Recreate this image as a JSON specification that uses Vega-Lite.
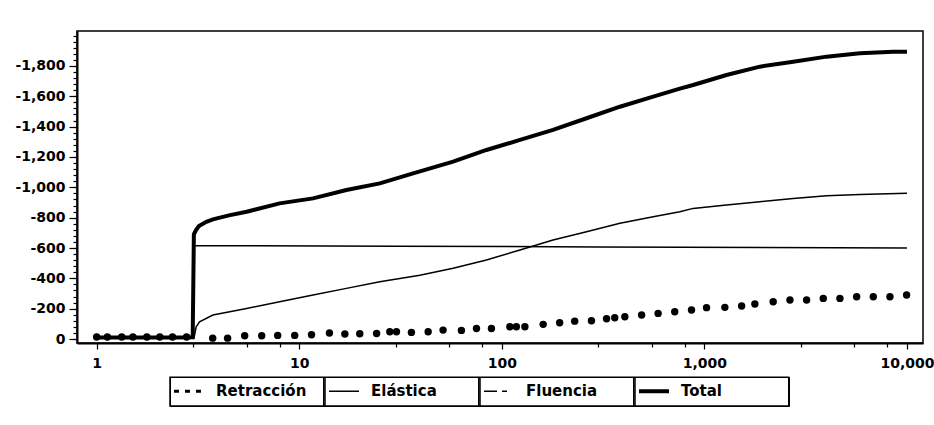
{
  "$schema": "https://vega.github.io/schema/vega-lite/v6.json",
  "width": 846,
  "height": 312,
  "autosize": {"type": "none"},
  "padding": {"left": 77, "top": 31, "right": 11, "bottom": 82},
  "background": "white",
  "config": {
    "view": {"stroke": "black", "strokeWidth": 1.5},
    "axis": {"labelFont": "DejaVu Sans", "labelFontSize": 14, "labelFontWeight": "bold", "labelColor": "black", "domainColor": "black", "tickColor": "black", "grid": false, "domainWidth": 2, "tickWidth": 1.2, "title": null}
  },
  "datasets": {
    "lineas": [
      {"serie": "Total", "t": 1, "v": -10},
      {"serie": "Total", "t": 1.5, "v": -10},
      {"serie": "Total", "t": 2, "v": -10},
      {"serie": "Total", "t": 2.5, "v": -11},
      {"serie": "Total", "t": 2.98, "v": -12},
      {"serie": "Total", "t": 3.02, "v": -690},
      {"serie": "Total", "t": 3.1, "v": -720},
      {"serie": "Total", "t": 3.2, "v": -745},
      {"serie": "Total", "t": 3.48, "v": -773},
      {"serie": "Total", "t": 3.75, "v": -789},
      {"serie": "Total", "t": 4.5, "v": -815},
      {"serie": "Total", "t": 5.5, "v": -839},
      {"serie": "Total", "t": 8, "v": -894},
      {"serie": "Total", "t": 11.7, "v": -927},
      {"serie": "Total", "t": 17.1, "v": -982},
      {"serie": "Total", "t": 25, "v": -1026},
      {"serie": "Total", "t": 36.5, "v": -1092},
      {"serie": "Total", "t": 57.5, "v": -1169},
      {"serie": "Total", "t": 84, "v": -1246},
      {"serie": "Total", "t": 123, "v": -1312},
      {"serie": "Total", "t": 179, "v": -1378},
      {"serie": "Total", "t": 262, "v": -1455},
      {"serie": "Total", "t": 383, "v": -1531},
      {"serie": "Total", "t": 559, "v": -1597},
      {"serie": "Total", "t": 757, "v": -1650},
      {"serie": "Total", "t": 880, "v": -1674},
      {"serie": "Total", "t": 1286, "v": -1740},
      {"serie": "Total", "t": 1880, "v": -1795},
      {"serie": "Total", "t": 2745, "v": -1828},
      {"serie": "Total", "t": 4010, "v": -1861},
      {"serie": "Total", "t": 5860, "v": -1883},
      {"serie": "Total", "t": 8560, "v": -1894},
      {"serie": "Total", "t": 10000, "v": -1894},
      {"serie": "Elástica", "t": 3.02, "v": -615},
      {"serie": "Elástica", "t": 30, "v": -612},
      {"serie": "Elástica", "t": 300, "v": -607},
      {"serie": "Elástica", "t": 10000, "v": -600},
      {"serie": "Fluencia", "t": 3.02, "v": -5},
      {"serie": "Fluencia", "t": 3.1, "v": -81},
      {"serie": "Fluencia", "t": 3.22, "v": -114},
      {"serie": "Fluencia", "t": 3.75, "v": -158},
      {"serie": "Fluencia", "t": 5.5, "v": -202},
      {"serie": "Fluencia", "t": 8, "v": -246},
      {"serie": "Fluencia", "t": 11.7, "v": -290},
      {"serie": "Fluencia", "t": 17.1, "v": -334},
      {"serie": "Fluencia", "t": 25, "v": -378},
      {"serie": "Fluencia", "t": 39.4, "v": -420},
      {"serie": "Fluencia", "t": 57.5, "v": -466},
      {"serie": "Fluencia", "t": 84, "v": -521},
      {"serie": "Fluencia", "t": 123, "v": -587},
      {"serie": "Fluencia", "t": 179, "v": -653},
      {"serie": "Fluencia", "t": 262, "v": -707},
      {"serie": "Fluencia", "t": 383, "v": -763},
      {"serie": "Fluencia", "t": 559, "v": -806},
      {"serie": "Fluencia", "t": 757, "v": -839},
      {"serie": "Fluencia", "t": 880, "v": -861},
      {"serie": "Fluencia", "t": 1286, "v": -883},
      {"serie": "Fluencia", "t": 1880, "v": -905},
      {"serie": "Fluencia", "t": 2745, "v": -927},
      {"serie": "Fluencia", "t": 4010, "v": -945},
      {"serie": "Fluencia", "t": 5860, "v": -952},
      {"serie": "Fluencia", "t": 10000, "v": -960}
    ],
    "retraccion": [
      {"t": 1, "v": -13}, {"t": 1.13, "v": -13}, {"t": 1.33, "v": -13}, {"t": 1.51, "v": -13},
      {"t": 1.77, "v": -13}, {"t": 2.05, "v": -13}, {"t": 2.37, "v": -13}, {"t": 2.78, "v": -13},
      {"t": 3.74, "v": -6}, {"t": 4.43, "v": -6}, {"t": 5.38, "v": -22}, {"t": 6.53, "v": -22},
      {"t": 7.83, "v": -24}, {"t": 9.5, "v": -24}, {"t": 11.5, "v": -28}, {"t": 14.1, "v": -40},
      {"t": 16.8, "v": -33}, {"t": 19.9, "v": -35}, {"t": 24.1, "v": -37}, {"t": 28, "v": -48},
      {"t": 30.2, "v": -48}, {"t": 35.8, "v": -44}, {"t": 43.3, "v": -48}, {"t": 51.3, "v": -59},
      {"t": 63.2, "v": -57}, {"t": 75, "v": -70}, {"t": 88.9, "v": -70}, {"t": 109.6, "v": -81},
      {"t": 118, "v": -81}, {"t": 130, "v": -81}, {"t": 160, "v": -97}, {"t": 193, "v": -107},
      {"t": 229, "v": -118}, {"t": 277, "v": -121}, {"t": 329, "v": -134}, {"t": 361, "v": -140},
      {"t": 405, "v": -147}, {"t": 490, "v": -158}, {"t": 591, "v": -169}, {"t": 714, "v": -180},
      {"t": 864, "v": -191}, {"t": 1025, "v": -207}, {"t": 1262, "v": -209}, {"t": 1527, "v": -218},
      {"t": 1775, "v": -231}, {"t": 2186, "v": -246}, {"t": 2645, "v": -257}, {"t": 3196, "v": -257},
      {"t": 3862, "v": -268}, {"t": 4667, "v": -268}, {"t": 5645, "v": -279}, {"t": 6821, "v": -279},
      {"t": 8241, "v": -279}, {"t": 9960, "v": -290}
    ]
  },
  "layer": [
    {
      "data": {"name": "lineas"},
      "mark": {"type": "line", "color": "black"},
      "encoding": {
        "x": {"field": "t", "type": "quantitative", "scale": {"type": "log", "domain": [0.8, 12000], "nice": false},
              "axis": {"values": [1, 10, 100, 1000, 10000], "format": ",", "tickSize": 6, "labelPadding": 7, "domainWidth": 2}},
        "y": {"field": "v", "type": "quantitative", "scale": {"domain": [-2030, 26], "reverse": true, "nice": false, "zero": false},
              "axis": {"values": [0, -200, -400, -600, -800, -1000, -1200, -1400, -1600, -1800], "tickSize": 8, "labelPadding": 4,
                       "labelExpr": "datum.value < 0 ? '-' + format(-datum.value, ',') : format(datum.value, ',')"}},
        "strokeWidth": {"field": "serie", "type": "nominal",
          "scale": {"type": "ordinal", "domain": ["Retracción", "Elástica", "Fluencia", "Total"], "range": [3, 1.5, 1.5, 4]},
          "legend": {"orient": "none", "legendX": 93, "legendY": 346, "direction": "horizontal", "columns": 4, "title": null,
            "symbolType": "stroke", "symbolSize": 900, "symbolStrokeColor": "black", "labelFont": "DejaVu Sans", "labelFontSize": 15, "labelFontWeight": "bold",
            "labelColor": "black", "labelOffset": 12, "strokeColor": "black", "padding": 0, "columnPadding": -4, "rowPadding": 0, "gridAlign": "all",
            "encode": {
              "entries": {"update": {"stroke": {"value": "black"}, "strokeWidth": {"value": 1.5}, "width": {"value": 153}, "height": {"value": 28}, "noBound": {"value": false}}},
              "symbols": {"update": {"x": {"value": 19}, "y": {"value": 14},
                "strokeDash": {"signal": "datum.value === 'Retracción' ? [5,6,5,6,5] : datum.value === 'Fluencia' ? [13,5,5,7] : [1,0]"}}},
              "labels": {"update": {"x": {"value": 46}, "y": {"value": 14}, "baseline": {"value": "middle"}}}
            }}}
      }
    },
    {
      "data": {"name": "retraccion"},
      "mark": {"type": "point", "filled": true, "color": "black", "size": 55, "opacity": 1},
      "encoding": {
        "x": {"field": "t", "type": "quantitative", "scale": {"type": "log", "domain": [0.8, 12000], "nice": false},
              "axis": {"orient": "bottom", "values": [3, 5.5, 8, 30, 55, 80, 300, 550, 800, 3000, 5500, 8000], "labels": false, "domain": false, "tickSize": 4}},
        "y": {"field": "v", "type": "quantitative", "scale": {"domain": [-2030, 26], "reverse": true, "nice": false, "zero": false},
              "axis": {"orient": "left", "values": [0, -40, -80, -120, -160, -200, -240, -280, -320, -360, -400, -440, -480, -520, -560, -600, -640, -680, -720, -760, -800, -840, -880, -920, -960, -1000, -1040, -1080, -1120, -1160, -1200, -1240, -1280, -1320, -1360, -1400, -1440, -1480, -1520, -1560, -1600, -1640, -1680, -1720, -1760, -1800, -1840, -1880, -1920, -1960, -2000], "labels": false, "domain": false, "tickSize": 4}}
      }
    }
  ],
  "resolve": {"axis": {"x": "independent", "y": "independent"}}
}
